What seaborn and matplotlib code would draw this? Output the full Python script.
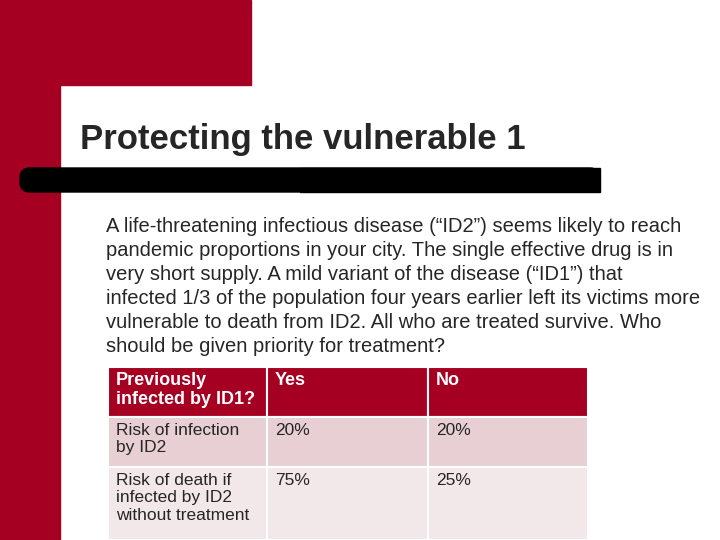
import matplotlib
matplotlib.use("Agg")
import matplotlib.pyplot as plt
import seaborn as sns
from matplotlib.patches import Rectangle, FancyBboxPatch

sns.set_style("white")
plt.rcParams['font.family'] = ['Liberation Sans', 'DejaVu Sans']

title = "Protecting the vulnerable 1"
body_lines = [
    "A life-threatening infectious disease (\u201cID2\u201d) seems likely to reach",
    "pandemic proportions in your city. The single effective drug is in",
    "very short supply. A mild variant of the disease (\u201cID1\u201d) that",
    "infected 1/3 of the population four years earlier left its victims more",
    "vulnerable to death from ID2. All who are treated survive. Who",
    "should be given priority for treatment?",
]
header = ["Previously\ninfected by ID1?", "Yes", "No"]
row_labels = ["Risk of infection\nby ID2", "Risk of death if\ninfected by ID2\nwithout treatment"]
yes_vals = ["20%", "75%"]
no_vals = ["20%", "25%"]

RED = "#A50021"
fig = plt.figure(figsize=(7.2, 5.4), dpi=100)
ax = fig.add_axes([0, 0, 1, 1])
ax.set_xlim(0, 720); ax.set_ylim(540, 0); ax.axis("off")

ax.add_patch(Rectangle((0, 0), 251, 85, color=RED))
ax.add_patch(Rectangle((0, 0), 60, 540, color=RED))
ax.text(80, 139, title, fontsize=25, fontweight="bold", va="center", ha="left")
ax.add_patch(FancyBboxPatch((20, 168), 580, 24, boxstyle="round,pad=0,rounding_size=10", color="black"))
ax.add_patch(Rectangle((300, 168), 300, 24, color="black"))
for i, line in enumerate(body_lines):
    ax.text(106, 227 + i * 24, line, fontsize=14.5, va="center", ha="left")

cols = [108, 267, 428, 588]
rows = [367, 417, 467, 540]
fills = [RED, "#E8CFD3", "#F3E8E9"]
for r in range(3):
    for c in range(3):
        ax.add_patch(Rectangle((cols[c], rows[r]), cols[c+1]-cols[c], rows[r+1]-rows[r],
                               facecolor=fills[r], edgecolor="white", linewidth=1.5))
for c, t in enumerate(header):
    ax.text(cols[c] + 8, rows[0] + 5, t, color="white", fontweight="bold", fontsize=13,
            va="top", ha="left", linespacing=1.15)
for r in range(2):
    for c, t in enumerate([row_labels[r], yes_vals[r], no_vals[r]]):
        ax.text(cols[c] + 8, rows[r+1] + 6, t, fontsize=12.5, va="top", ha="left", linespacing=1.2)

fig.savefig("out.png", dpi=100)
